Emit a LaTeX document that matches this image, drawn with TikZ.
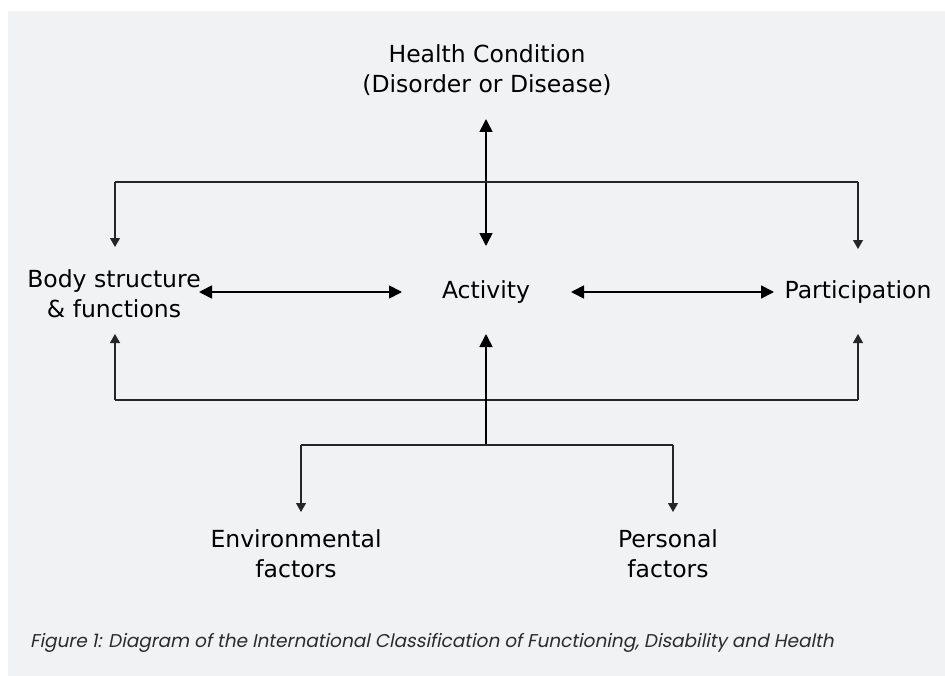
\documentclass[tikz,border=0pt]{standalone}
\usepackage{fontspec}
\setmainfont{DejaVu Sans}
\newfontfamily\capfont[FakeSlant=0.2]{Poppins}
\usetikzlibrary{arrows.meta}
\definecolor{panel}{HTML}{F1F2F4}
\definecolor{captext}{HTML}{2B2B2B}
\tikzset{
  lbl/.style={inner sep=0pt, align=center, font=\fontsize{23.5bp}{30bp}\selectfont},
  conn/.style={line width=1.1bp, draw=black!85},
  thin arrow/.style={conn, -{Triangle[length=9bp,width=10bp]}},
  dbl/.style={line width=1.7bp, {Triangle[length=13bp,width=13bp]}-{Triangle[length=13bp,width=13bp]}},
  up arrow/.style={line width=1.7bp, -{Triangle[length=13bp,width=13bp]}}
}
\begin{document}
\begin{tikzpicture}[x=1bp,y=-1bp]
  % page and panel
  \fill[white] (0,0) rectangle (945,676);
  \useasboundingbox (0,0) rectangle (945,676);
  \fill[panel] (8,11) rectangle (945,676);

  % labels
  \node[lbl] (hc)   at (487,70) {Health Condition\\(Disorder or Disease)};
  \node[lbl] (body) at (114,294)  {Body structure\\\& functions};
  \node[lbl, anchor=base] (act)  at (486,298) {Activity};
  \node[lbl, anchor=base] (part) at (858,298) {Participation};
  \node[lbl] (env)  at (296,554) {Environmental\\factors};
  \node[lbl] (pers) at (668,554) {Personal\\factors};

  % arrow ends and corners
  \coordinate (hcB)   at (486,119);
  \coordinate (actT)  at (486,246);
  \coordinate (topL)  at (115,182);
  \coordinate (topR)  at (858,182);
  \coordinate (bodyT) at (115,247);
  \coordinate (partT) at (858,249);
  \coordinate (bodyR) at (199,292);
  \coordinate (actL)  at (402,292);
  \coordinate (actR)  at (571,292);
  \coordinate (partL) at (774,292);
  \coordinate (botL)  at (115,400);
  \coordinate (botR)  at (858,400);
  \coordinate (bodyB) at (115,334);
  \coordinate (partB) at (858,334);
  \coordinate (actB)  at (486,334);
  \coordinate (jE)    at (486,445);
  \coordinate (brL)   at (301,445);
  \coordinate (brR)   at (673,445);
  \coordinate (envT)  at (301,512);
  \coordinate (persT) at (673,512);

  % health condition <-> activity
  \draw[dbl] (hcB) -- (actT);
  % top distribution line
  \draw[conn] (topL) -- (topR);
  \draw[thin arrow] (topL) -- (bodyT);
  \draw[thin arrow] (topR) -- (partT);
  % horizontal links
  \draw[dbl] (bodyR) -- (actL);
  \draw[dbl] (actR) -- (partL);
  % bottom distribution line
  \draw[conn] (botL) -- (botR);
  \draw[thin arrow] (botL) -- (bodyB);
  \draw[thin arrow] (botR) -- (partB);
  \draw[up arrow] (jE) -- (actB);
  % contextual factors branch
  \draw[conn] (brL) -- (brR);
  \draw[thin arrow] (brL) -- (envT);
  \draw[thin arrow] (brR) -- (persT);

  % caption
  \node[anchor=base west, inner sep=0pt, text=captext, font=\capfont\fontsize{18.5bp}{22bp}\selectfont] (cap) at (30,647)
    {Figure 1: Diagram of the International Classification of Functioning, Disability and Health};
\end{tikzpicture}
\end{document}
